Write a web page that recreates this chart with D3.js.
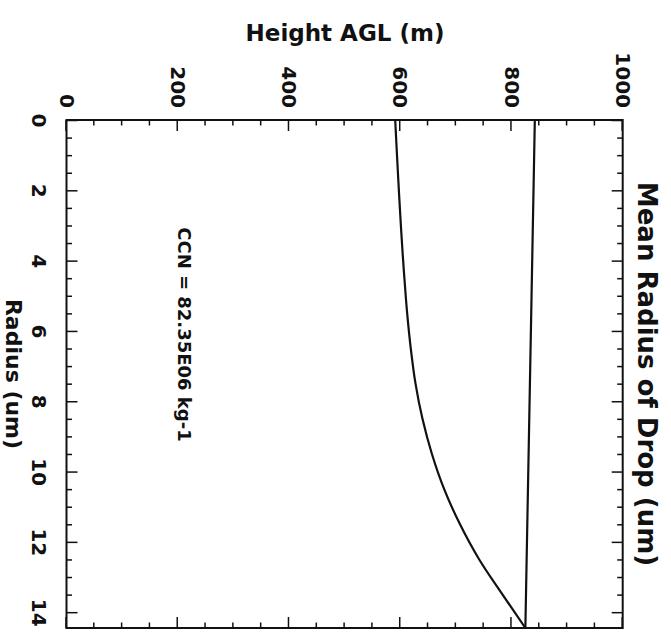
<!DOCTYPE html>
<html>
<head>
<meta charset="utf-8">
<script src="https://cdn.jsdelivr.net/npm/d3@7"></script>
<style>
  body { margin: 0; background: #fff; }
  text { font-family: "DejaVu Sans", sans-serif; font-weight: bold; fill: #111; }
</style>
</head>
<body>
<div id="chart"></div>
<script>
const width = 671,
    height = 635;

// profil de raio medio (um) com a altura (m)
const curveRadius = [0, 4.5, 5.5, 6.5, 7.5, 8.5, 9.5, 10.5, 11.5, 12.5, 13.5, 14.45];
const curveHeight = [591, 607.5, 612.5, 619, 627.5, 640, 657, 679, 707.5, 742, 784, 825];
// troço de volta ao raio zero no topo da nuvem
const topRadius = [14.45, 0, 0];
const topHeight = [825, 842, 1000];
const baseRadius = [0, 0];
const baseHeight = [0, 591];

const radiusTicks = [0, 2, 4, 6, 8, 10, 12, 14];
const heightTicks = [0, 200, 400, 600, 800, 1000];
const radiusMinor = d3.range(0.5, 14.5, 0.5).filter(d => d % 2 !== 0);
const heightMinor = d3.range(50, 1000, 50).filter(d => d % 200 !== 0);

const svg = d3.select("#chart")
    .append("svg")
    .attr("width", width)
    .attr("height", height);

// o grafico original esta rodado 90 graus
const g = svg.append("g")
    .attr("transform", "translate(" + width + ",0) rotate(90)");

const x = d3.scaleLinear().domain([0, 14.45]).range([120, 628]);
const y = d3.scaleLinear().domain([0, 1000]).range([604.5, 48.3]);

const line = d3.line()
    .x(d => x(d[0]))
    .y(d => y(d[1]));

// eixos com marcas para dentro
g.append("g")
    .attr("transform", "translate(0," + y(0) + ")")
    .call(d3.axisBottom(x).tickValues(radiusTicks).tickSizeInner(-11).tickSizeOuter(0).tickPadding(20))
    .call(a => a.selectAll("text").style("font-size", "20px"));
g.append("g")
    .attr("transform", "translate(0," + y(0) + ")")
    .call(d3.axisBottom(x).tickValues(radiusMinor).tickSizeInner(-5.5).tickSizeOuter(0).tickFormat(""));
g.append("g")
    .attr("transform", "translate(0," + y(1000) + ")")
    .call(d3.axisTop(x).tickValues(radiusTicks).tickSizeInner(-11).tickSizeOuter(0).tickFormat(""));
g.append("g")
    .attr("transform", "translate(0," + y(1000) + ")")
    .call(d3.axisTop(x).tickValues(radiusMinor).tickSizeInner(-5.5).tickSizeOuter(0).tickFormat(""));

g.append("g")
    .attr("transform", "translate(" + x(0) + ",0)")
    .call(d3.axisLeft(y).tickValues(heightTicks).tickFormat(d3.format("d"))
        .tickSizeInner(-11).tickSizeOuter(0).tickPadding(12))
    .call(a => a.selectAll("text").style("font-size", "20px"));
g.append("g")
    .attr("transform", "translate(" + x(0) + ",0)")
    .call(d3.axisLeft(y).tickValues(heightMinor).tickSizeInner(-5.5).tickSizeOuter(0).tickFormat(""));
g.append("g")
    .attr("transform", "translate(" + x(14.45) + ",0)")
    .call(d3.axisRight(y).tickValues(heightTicks).tickSizeInner(-11).tickSizeOuter(0).tickFormat(""));
g.append("g")
    .attr("transform", "translate(" + x(14.45) + ",0)")
    .call(d3.axisRight(y).tickValues(heightMinor).tickSizeInner(-5.5).tickSizeOuter(0).tickFormat(""));

g.selectAll(".domain").remove();
g.selectAll(".tick line").attr("stroke", "#111").attr("stroke-width", 1.5);

// moldura
g.append("rect")
    .attr("x", x(0))
    .attr("y", y(1000))
    .attr("width", x(14.45) - x(0))
    .attr("height", y(0) - y(1000))
    .attr("fill", "none")
    .attr("stroke", "#111")
    .attr("stroke-width", 2);

// linhas de dados
g.append("path")
    .datum(d3.zip(baseRadius, baseHeight))
    .attr("d", line)
    .attr("fill", "none").attr("stroke", "#111").attr("stroke-width", 2.2);
g.append("path")
    .datum(d3.zip(curveRadius, curveHeight))
    .attr("d", line.curve(d3.curveMonotoneX))
    .attr("fill", "none").attr("stroke", "#111").attr("stroke-width", 2.2);
g.append("path")
    .datum(d3.zip(topRadius, topHeight))
    .attr("d", line.curve(d3.curveLinear))
    .attr("fill", "none").attr("stroke", "#111").attr("stroke-width", 2.2);

// textos
g.append("text")
    .attr("x", (x(0) + x(14.45)) / 2)
    .attr("y", 33)
    .attr("text-anchor", "middle")
    .style("font-size", "26px")
    .text("Mean Radius of Drop (um)");

g.append("text")
    .attr("x", (x(0) + x(14.45)) / 2)
    .attr("y", 665)
    .attr("text-anchor", "middle")
    .style("font-size", "22px")
    .text("Radius (um)");

g.append("text")
    .attr("x", x(3.05))
    .attr("y", y(200))
    .style("font-size", "18px")
    .text("CCN = 82.35E06 kg-1");

svg.append("text")
    .attr("x", 345)
    .attr("y", 41)
    .attr("text-anchor", "middle")
    .style("font-size", "23px")
    .text("Height AGL (m)");
</script>
</body>
</html>
